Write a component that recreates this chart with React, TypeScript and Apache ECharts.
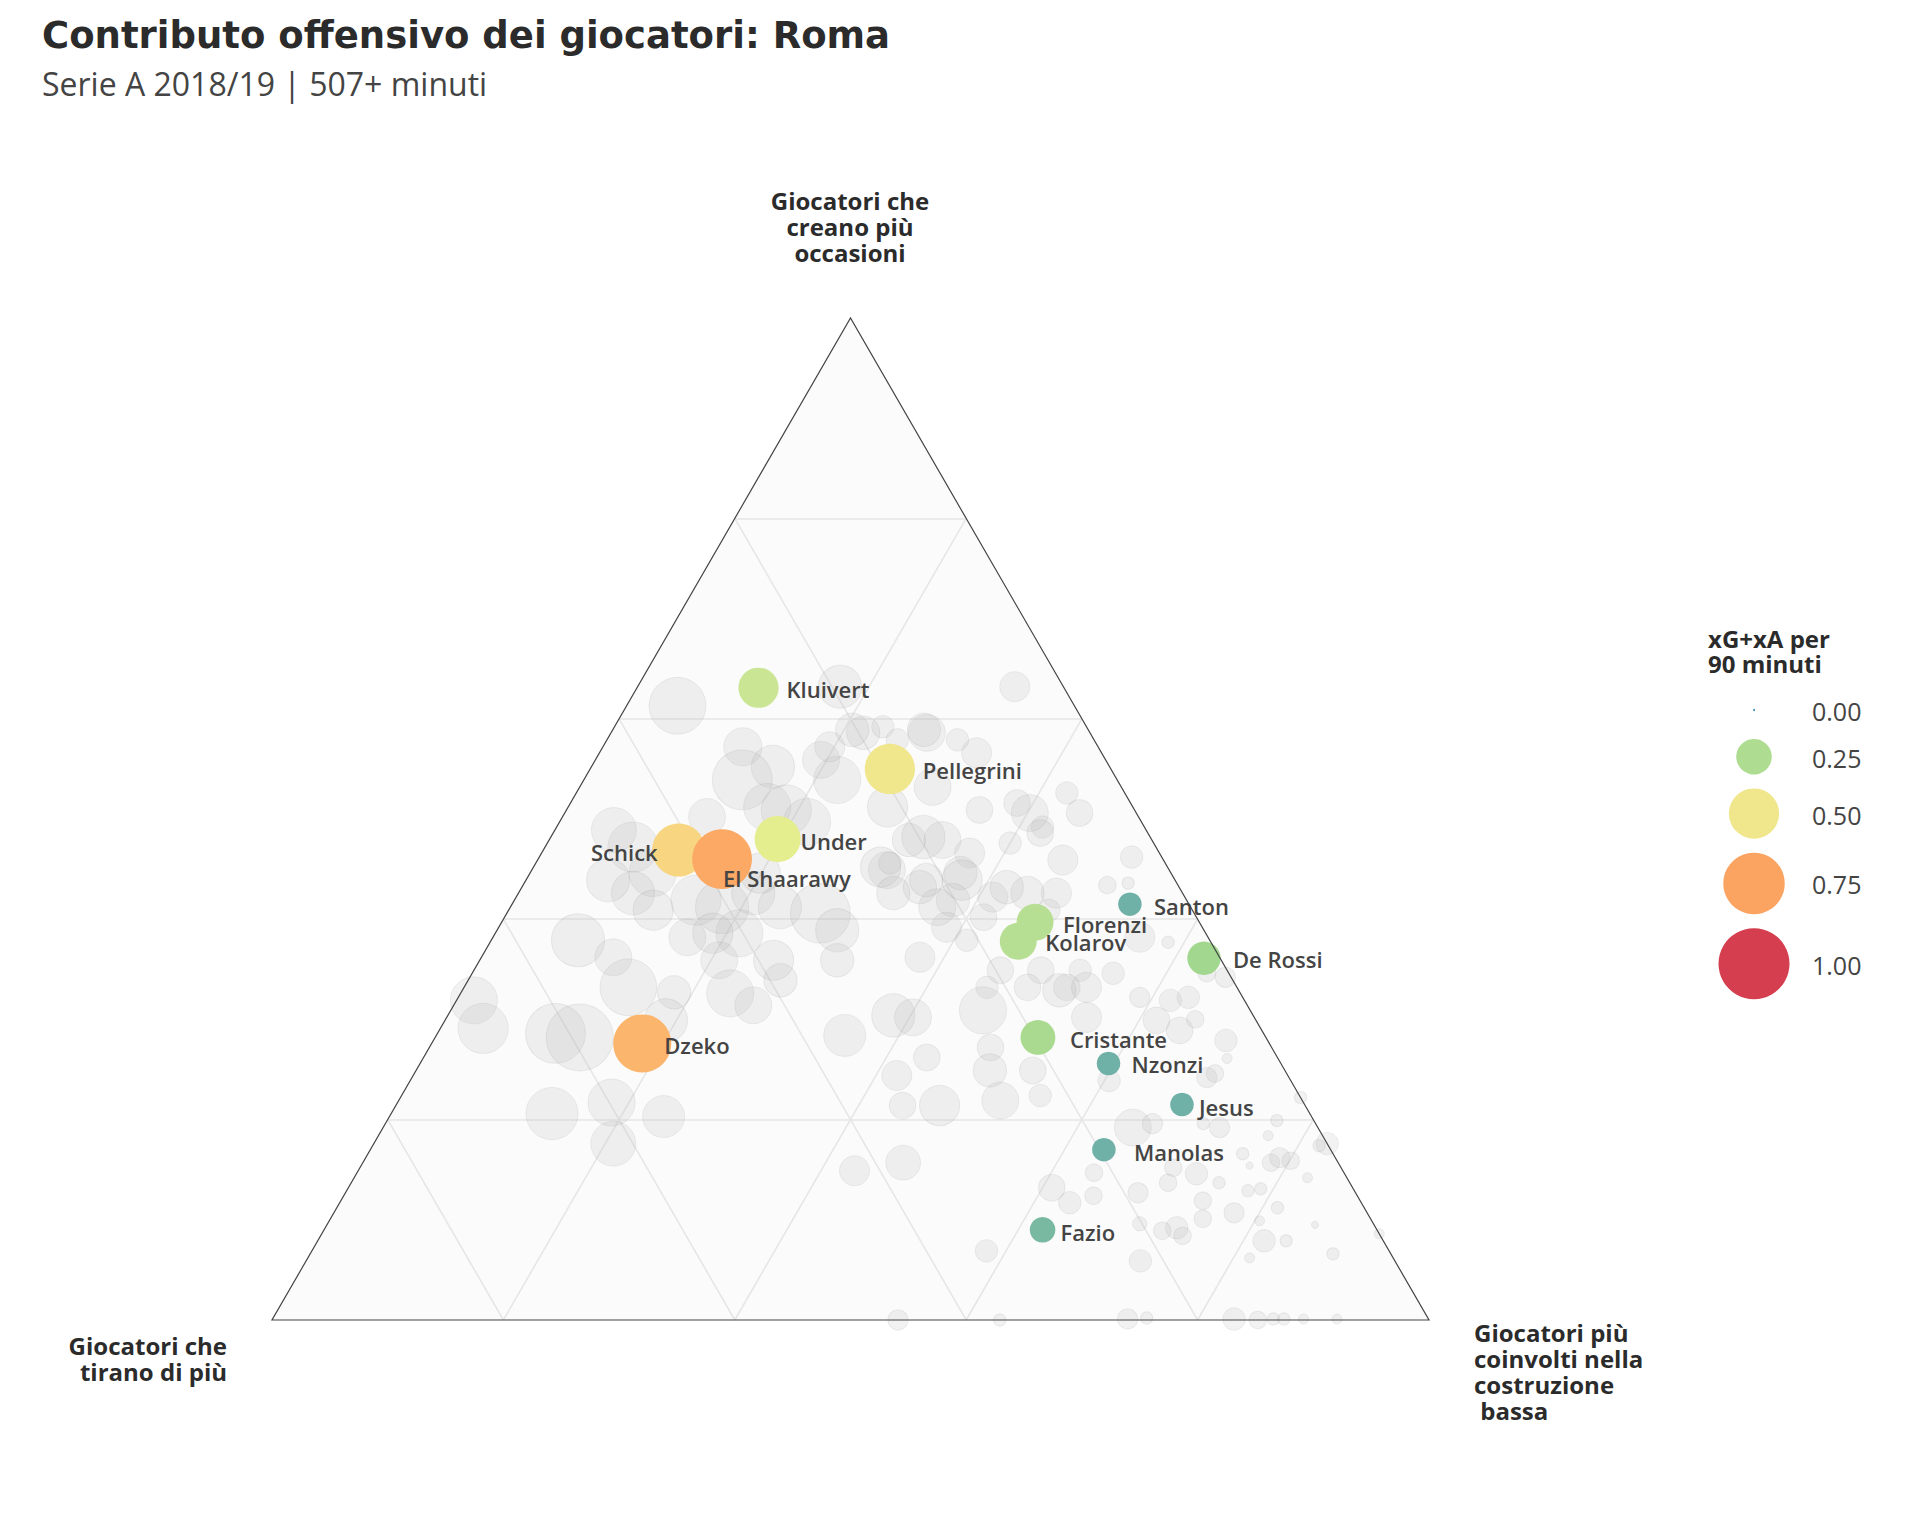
import React, { useEffect, useRef } from "react";
import * as echarts from "echarts";

// ---------- testi ----------
const titolo = "Contributo offensivo dei giocatori: Roma";
const sottotitolo = "Serie A 2018/19 | 507+ minuti";
const assePunta = "Giocatori che\ncreano più\noccasioni";
const asseSinistra = "Giocatori che\ntirano di più";
const asseDestra = "Giocatori più\ncoinvolti nella\ncostruzione\n bassa";
const legendaTitolo = "xG+xA per\n90 minuti";

// ---------- giocatori della Roma (composizione ternaria in %) ----------
const romaGiocatori = ["Kluivert", "Pellegrini", "Under", "Schick", "El Shaarawy", "Santon", "Florenzi", "Kolarov", "De Rossi", "Dzeko", "Cristante", "Nzonzi", "Jesus", "Manolas", "Fazio"];
const romaCreano = [63.1, 55.0, 48.0, 46.9, 46.0, 41.5, 39.7, 37.8, 36.1, 27.6, 28.2, 25.6, 21.5, 17.0, 9.0];
const romaTirano = [26.4, 19.1, 32.3, 41.4, 38.1, 5.1, 14.2, 16.6, 1.4, 54.2, 19.7, 14.9, 10.6, 19.6, 28.9];
const romaCostruzione = [10.5, 25.9, 19.7, 11.7, 15.9, 53.4, 46.1, 45.6, 62.5, 18.2, 52.1, 59.5, 67.9, 63.4, 62.1];
const romaXgXa = [0.32, 0.50, 0.42, 0.56, 0.71, 0.11, 0.27, 0.27, 0.22, 0.67, 0.24, 0.11, 0.11, 0.11, 0.13];

// ---------- altri giocatori di Serie A: [creano, tirano, costruzione, xG+xA] ----------
const altriGiocatori: [number, number, number, number][] = [
  [61.3, 34.3, 4.4, 0.64], [57.2, 30.7, 12.1, 0.29], [55.2, 29.1, 15.7, 0.37], [53.9, 32.4, 13.7, 0.71],
  [50.9, 30.1, 19.0, 0.50], [49.7, 28.9, 21.4, 0.44], [53.9, 24.2, 21.9, 0.44], [58.6, 19.6, 21.8, 0.22],
  [63.2, 19.3, 17.5, 0.37], [50.2, 37.3, 12.5, 0.27], [47.2, 45.2, 7.6, 0.50], [44.6, 44.8, 10.6, 0.44],
  [42.6, 47.5, 9.9, 0.37], [40.9, 46.6, 12.5, 0.32], [41.9, 42.4, 15.7, 0.50], [41.2, 40.5, 18.3, 0.56],
  [42.6, 37.1, 20.3, 0.37], [41.2, 35.5, 23.3, 0.37], [40.6, 32.3, 27.1, 0.71], [38.9, 31.7, 29.4, 0.37],
  [38.6, 40.3, 21.1, 0.44], [38.6, 42.6, 18.8, 0.32], [38.2, 45.0, 16.8, 0.27], [37.9, 54.6, 7.5, 0.56],
  [36.2, 52.4, 11.4, 0.27], [35.9, 43.4, 20.7, 0.27], [35.9, 38.7, 25.4, 0.32], [35.9, 33.2, 30.9, 0.22],
  [47.9, 21.0, 31.1, 0.22], [44.9, 24.4, 30.7, 0.27], [43.2, 22.4, 34.4, 0.22], [51.2, 21.2, 27.6, 0.32],
  [57.2, 23.2, 19.6, 0.18], [59.2, 17.6, 23.2, 0.10], [44.6, 35.5, 19.9, 0.32], [58.9, 20.4, 20.7, 0.22],
  [58.9, 14.2, 26.9, 0.22], [57.9, 11.8, 30.3, 0.10], [56.6, 10.8, 32.6, 0.18], [63.2, 4.2, 32.6, 0.18],
  [53.2, 16.3, 30.5, 0.27], [50.9, 13.4, 35.7, 0.14], [51.6, 9.8, 38.6, 0.14], [49.2, 8.8, 42.0, 0.10],
  [48.2, 19.6, 32.2, 0.37], [47.9, 18.1, 34.0, 0.27], [46.6, 16.4, 37.0, 0.18], [47.6, 12.4, 40.0, 0.10],
  [43.9, 21.5, 34.6, 0.22], [44.6, 18.2, 37.2, 0.22], [41.9, 20.2, 37.9, 0.22], [42.2, 16.6, 41.2, 0.18],
  [42.6, 13.4, 44.0, 0.22], [40.9, 12.4, 46.7, 0.10], [45.2, 24.8, 30.0, 0.32], [42.6, 25.0, 32.4, 0.22],
  [58.6, 14.1, 27.3, 0.27], [57.9, 17.0, 25.1, 0.10], [50.6, 9.2, 40.2, 0.27], [52.6, 5.0, 42.4, 0.10],
  [50.6, 4.9, 44.5, 0.14], [48.6, 9.3, 42.1, 0.14], [45.9, 8.7, 45.4, 0.18], [46.2, 2.6, 51.2, 0.10],
  [43.4, 6.1, 50.5, 0.06], [43.6, 4.2, 52.2, 0.03], [45.6, 23.8, 30.6, 0.10], [43.9, 18.4, 37.7, 0.32],
  [43.2, 14.9, 41.9, 0.22], [42.6, 10.9, 46.5, 0.18], [41.2, 21.9, 36.9, 0.27], [40.2, 18.4, 41.4, 0.14],
  [39.2, 22.1, 38.7, 0.18], [36.2, 25.9, 37.9, 0.18], [37.9, 21.0, 41.1, 0.10], [34.9, 19.6, 45.5, 0.14],
  [34.9, 16.1, 49.0, 0.14], [34.9, 12.7, 52.4, 0.10], [34.6, 10.0, 55.4, 0.10], [38.2, 5.9, 55.9, 0.18],
  [37.7, 3.7, 58.6, 0.03], [34.6, 1.9, 63.5, 0.06], [34.2, 0.5, 65.3, 0.08], [33.2, 14.7, 52.1, 0.14],
  [33.2, 18.1, 48.7, 0.14], [33.2, 21.6, 45.2, 0.10], [31.9, 66.6, 1.5, 0.44], [29.1, 67.2, 3.7, 0.50],
  [28.6, 61.2, 10.2, 0.71], [28.2, 59.3, 12.5, 0.89], [33.2, 52.6, 14.2, 0.64], [32.7, 48.9, 18.4, 0.22],
  [29.9, 51.0, 19.1, 0.37], [32.6, 44.1, 23.3, 0.44], [31.4, 42.7, 25.9, 0.27], [33.9, 39.1, 27.0, 0.22],
  [28.4, 36.3, 35.3, 0.35], [30.4, 31.1, 38.5, 0.37], [30.2, 29.5, 40.3, 0.27], [24.4, 33.8, 41.8, 0.18],
  [21.4, 34.8, 43.8, 0.14], [20.6, 65.5, 13.9, 0.54], [21.7, 59.8, 18.5, 0.44], [20.3, 56.0, 23.7, 0.35],
  [17.6, 61.7, 20.7, 0.40], [14.9, 42.2, 42.9, 0.18], [15.7, 37.6, 46.7, 0.24], [0, 45.9, 54.1, 0.08],
  [30.9, 23.1, 46.0, 0.44], [32.9, 15.5, 51.6, 0.22], [33.2, 13.0, 53.8, 0.18], [32.2, 8.9, 58.9, 0.08],
  [31.9, 6.4, 61.7, 0.10], [32.2, 4.7, 63.1, 0.10], [29.9, 8.6, 61.5, 0.14], [28.9, 7.1, 64.0, 0.14],
  [30.2, 14.5, 55.3, 0.18], [27.9, 3.6, 68.5, 0.10], [26.1, 4.4, 69.5, 0.02], [27.2, 24.3, 48.5, 0.14],
  [24.9, 25.5, 49.6, 0.22], [24.9, 21.8, 53.3, 0.14], [26.2, 30.3, 43.5, 0.14], [24.2, 7.1, 68.7, 0.08],
  [22.4, 22.4, 55.2, 0.10], [21.9, 26.1, 52.0, 0.27], [21.4, 31.6, 47.0, 0.32], [23.9, 15.7, 60.4, 0.10],
  [19.2, 16.0, 64.8, 0.27], [19.6, 14.1, 66.3, 0.08], [19.6, 9.7, 70.7, 0.03], [19.2, 8.5, 72.3, 0.08],
  [19.9, 3.2, 76.9, 0.03], [18.4, 4.7, 76.9, 0.02], [22.2, 0, 77.8, 0.03], [17.6, 0, 82.4, 0.10],
  [16.6, 7.8, 75.6, 0.03], [15.4, 7.8, 76.8, 0.01], [15.7, 5.8, 78.5, 0.06], [16.2, 4.8, 79.0, 0.08],
  [15.9, 4.0, 80.1, 0.06], [14.2, 3.4, 82.4, 0.02], [14.7, 21.6, 63.7, 0.06], [15.2, 14.5, 70.3, 0.06],
  [14.6, 12.8, 72.6, 0.10], [13.7, 11.3, 75.0, 0.03], [13.7, 15.7, 70.6, 0.06], [11.9, 13.6, 74.5, 0.06],
  [10.7, 11.5, 77.8, 0.08], [12.9, 9.2, 77.9, 0.03], [11.2, 7.5, 81.3, 0.03], [13.2, 26.0, 60.8, 0.14],
  [11.7, 25.2, 63.1, 0.10], [12.4, 22.8, 64.8, 0.06], [12.7, 18.8, 68.5, 0.08], [9.6, 20.2, 70.2, 0.04],
  [9.2, 17.2, 73.6, 0.10], [10.1, 14.5, 75.4, 0.06], [9.9, 9.7, 80.4, 0.02], [7.9, 10.3, 81.8, 0.10],
  [7.9, 8.4, 83.7, 0.03], [6.6, 5.0, 88.4, 0.03], [6.2, 12.4, 81.4, 0.02], [8.4, 17.1, 74.5, 0.06],
  [8.9, 18.6, 72.5, 0.06], [5.9, 22.0, 72.1, 0.10], [6.9, 34.8, 58.3, 0.10], [8.6, 0, 91.4, 0.02],
  [0, 37.1, 62.9, 0.03], [0.1, 26.0, 73.9, 0.08], [0.2, 24.3, 75.5, 0.03], [0.1, 16.8, 83.1, 0.10],
  [0, 14.8, 85.2, 0.06], [0.1, 13.4, 86.5, 0.03], [0.1, 12.5, 87.4, 0.03], [0.1, 10.8, 89.1, 0.02],
  [0.1, 7.9, 92.0, 0.02], [17.4, 0.8, 81.8, 0.03], [24.6, 6.2, 69.2, 0.06], [48.9, 46.0, 5.1, 0.40],
  [43.9, 49.0, 7.1, 0.37], [55.9, 24.6, 19.5, 0.27], [51.2, 31.6, 17.2, 0.44], [30.0, 5.2, 64.8, 0.06],
  [13.1, 8.0, 78.9, 0.03], [9.5, 5.1, 85.4, 0.01],
];

// ---------- legenda e griglia ----------
const legendaValori = [0, 0.25, 0.5, 0.75, 1];
const legendaEtichette = ["0.00", "0.25", "0.50", "0.75", "1.00"];
const grigliaLivelli = [0.2, 0.4, 0.6, 0.8];

// ---------- stile ----------
const scalaColori = ["#3288bd", "#6cadaa", "#98d48c", "#c4e496", "#e2f08f", "#f0e68c", "#fdcb7a", "#fcab66", "#fa9a5c", "#e8704f", "#d53e4f"];
// [allineamento, scarto x dal centro della bolla, scarto y dal centro]
const etichettaPosizione: Record<string, [string, number, number]> = {
  Kluivert: ["left", 28, 1],
  Pellegrini: ["left", 33, 1],
  Under: ["left", 23, 2],
  Schick: ["right", -21, 2],
  "El Shaarawy": ["left", 1, 19],
  Santon: ["left", 24, 2],
  Florenzi: ["left", 28, 2],
  Kolarov: ["left", 27, 1],
  "De Rossi": ["left", 29, 1],
  Dzeko: ["left", 22, 2],
  Cristante: ["left", 32, 2],
  Nzonzi: ["left", 23, 1],
  Jesus: ["left", 17, 2],
  Manolas: ["left", 30, 2],
  Fazio: ["left", 18, 2],
};

const SQ = Math.sqrt(3) / 2;
const FONT = '"Open Sans", "Noto Sans", sans-serif';
const GRID = { left: 272, top: 318, width: 1157 };

// proiezione ternaria -> piano: a = punta (creano), b = sinistra (tirano), c = destra (costruzione)
function proietta(a: number, b: number, c: number): [number, number] {
  const s = a + b + c;
  const fa = a / s;
  const fc = c / s;
  return [fc + fa / 2, fa * SQ];
}
const dimensione = (v: number) => Math.max(2, 71 * Math.sqrt(Math.max(0, v)));

function buildOption() {
  const linee: any[] = [];
  grigliaLivelli.forEach((k) => {
    linee.push({ coords: [proietta(k, 1 - k, 0), proietta(k, 0, 1 - k)] });
    linee.push({ coords: [proietta(0, k, 1 - k), proietta(1 - k, k, 0)] });
    linee.push({ coords: [proietta(0, 1 - k, k), proietta(1 - k, 0, k)] });
  });

  const altri = altriGiocatori.map(([a, b, c, v]) => [...proietta(a, b, c), v]);

  const roma = romaGiocatori.map((nome, i) => {
    const [align, dx, dy] = etichettaPosizione[nome] || ["left", 24, 2];
    const r = dimensione(romaXgXa[i]) / 2;
    return {
      name: nome,
      value: [...proietta(romaCreano[i], romaTirano[i], romaCostruzione[i]), romaXgXa[i]],
      label: { align, verticalAlign: "middle", position: [r + dx, r + dy] },
    };
  });

  const vertici = [proietta(0, 1, 0), proietta(0, 0, 1), proietta(1, 0, 0)];
  const triangolo = (fill: string, stroke: string | null) => ({
    type: "custom",
    coordinateSystem: "cartesian2d",
    silent: true,
    data: [[0, 0]],
    renderItem: (_p: any, api: any) => ({
      type: "polygon",
      shape: { points: vertici.map((p) => api.coord(p)) },
      style: stroke ? { fill: "none", stroke, lineWidth: 1.2 } : { fill },
    }),
  });

  // legenda a bolle
  const gap = 14;
  const y0 = 710;
  const hs = legendaValori.map((v) => Math.max(30, dimensione(v)));
  const ys: number[] = [];
  legendaValori.forEach((_, i) => {
    ys.push(i === 0 ? y0 : ys[i - 1] + (hs[i - 1] + hs[i]) / 2 + gap);
  });
  const legendaEl: any[] = [];
  legendaValori.forEach((v, i) => {
    legendaEl.push({
      type: "circle",
      shape: { cx: 1754, cy: ys[i], r: dimensione(v) / 2 },
      style: { fill: echarts.color.lerp(v, scalaColori) },
      silent: true,
    });
    legendaEl.push({
      type: "text",
      style: { x: 1812, y: ys[i] + 1, text: legendaEtichette[i], fill: "#444", fontSize: 25, fontFamily: FONT, textAlign: "left", textVerticalAlign: "middle" },
      silent: true,
    });
  });

  return {
    animation: false,
    backgroundColor: "#ffffff",
    grid: { left: GRID.left, top: GRID.top, width: GRID.width, height: GRID.width * SQ },
    xAxis: { type: "value", min: 0, max: 1, show: false },
    yAxis: { type: "value", min: 0, max: SQ, show: false },
    visualMap: {
      type: "continuous",
      show: false,
      seriesIndex: 3,
      dimension: 2,
      min: 0,
      max: 1,
      inRange: { color: scalaColori },
    },
    series: [
      triangolo("#fbfbfb", null),
      {
        type: "lines",
        coordinateSystem: "cartesian2d",
        silent: true,
        data: linee,
        lineStyle: { color: "#e6e6e6", width: 1.6, opacity: 1 },
      },
      {
        type: "scatter",
        silent: true,
        data: altri,
        symbolSize: (val: number[]) => dimensione(val[2]),
        itemStyle: { color: "rgba(175,175,175,0.2)", borderColor: "rgba(140,140,140,0.18)", borderWidth: 1 },
      },
      {
        type: "scatter",
        silent: true,
        data: roma,
        symbolSize: (val: number[]) => dimensione(val[2]),
        itemStyle: { opacity: 1 },
        label: {
          show: true,
          formatter: "{b}",
          color: "#444",
          fontSize: 22,
          fontWeight: 600,
          fontFamily: FONT,
        },
        labelLayout: { hideOverlap: false },
        z: 3,
      },
      { ...triangolo("none", "#444"), z: 4 },
    ],
    graphic: [
      {
        type: "text",
        silent: true,
        style: { x: 42, y: 35, text: titolo, fill: "#2b2b2b", fontSize: 37, fontWeight: "bold", fontFamily: '"DejaVu Sans", sans-serif', textAlign: "left", textVerticalAlign: "middle" },
      },
      {
        type: "text",
        silent: true,
        style: { x: 42, y: 83, text: sottotitolo, fill: "#444", fontSize: 32, fontFamily: FONT, textAlign: "left", textVerticalAlign: "middle" },
      },
      {
        type: "text",
        silent: true,
        style: { x: 850, y: 226, text: assePunta, fill: "#2b2b2b", fontSize: 24, lineHeight: 26, fontWeight: "bold", fontFamily: FONT, textAlign: "center", textVerticalAlign: "middle" },
      },
      {
        type: "text",
        silent: true,
        style: { x: 227, y: 1358, text: asseSinistra, fill: "#2b2b2b", fontSize: 24, lineHeight: 26, fontWeight: "bold", fontFamily: FONT, textAlign: "right", textVerticalAlign: "middle" },
      },
      {
        type: "text",
        silent: true,
        style: { x: 1474, y: 1371, text: asseDestra, fill: "#2b2b2b", fontSize: 24, lineHeight: 26, fontWeight: "bold", fontFamily: FONT, textAlign: "left", textVerticalAlign: "middle" },
      },
      {
        type: "text",
        silent: true,
        style: { x: 1708, y: 651, text: legendaTitolo, fill: "#2b2b2b", fontSize: 24, lineHeight: 25, fontWeight: "bold", fontFamily: FONT, textAlign: "left", textVerticalAlign: "middle" },
      },
      ...legendaEl,
    ],
  };
}

export default function App() {
  const ref = useRef<HTMLDivElement>(null);
  useEffect(() => {
    if (!ref.current) return;
    const chart = echarts.init(ref.current, null, { renderer: "svg" });
    chart.setOption(buildOption() as any);
    return () => chart.dispose();
  }, []);
  return <div ref={ref} style={{ position: "absolute", left: 0, top: 0, width: 1920, height: 1536, background: "#fff" }} />;
}
